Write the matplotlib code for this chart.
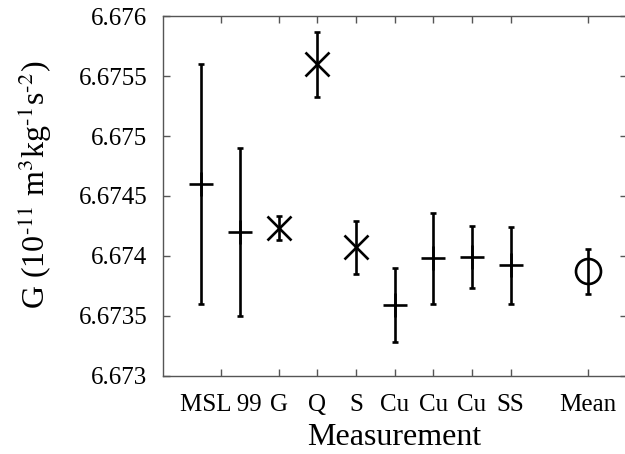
import numpy as np
import matplotlib.pyplot as plt

# measurements of G (in 10^-11 m^3 kg^-1 s^-2)
x_pos = [1, 2, 3, 4, 5, 6, 7, 8, 9, 11]
g_val = [6.6746, 6.6742, 6.67423, 6.6756, 6.67407, 6.67359, 6.67398, 6.67399, 6.67392, 6.67387]
g_err = [0.0010, 0.0007, 0.0001, 0.00027, 0.00022, 0.00031, 0.00038, 0.00026, 0.00032, 0.00019]
markers = ['+', '+', 'x', 'x', 'x', '+', '+', '+', '+', 'o']

tick_pos = [1.5, 3, 4, 5, 6, 7, 8, 9, 11]
tick_lab = ['MSL 99', 'G', 'Q', 'S', 'Cu', 'Cu', 'Cu', 'SS', 'Mean']
y_ticks = [6.673, 6.6735, 6.674, 6.6745, 6.675, 6.6755, 6.676]

plt.rcParams['font.family'] = ['Liberation Serif', 'DejaVu Serif']
plt.rcParams['mathtext.fontset'] = 'stix'

fig = plt.figure(figsize=(6.25, 4.54), dpi=100)
ax = fig.add_axes([0.2603, 0.1729, 0.7425, 0.7908])

for xi, yi, ei, m in zip(x_pos, g_val, g_err, markers):
    ms = 18 if m == 'o' else 17
    ax.errorbar(xi, yi, yerr=ei, fmt=m, color='black', ms=ms, mew=1.9,
                mfc='none', elinewidth=1.9, capsize=2, capthick=1.9)

ax.set_xlim(0, 12)
ax.set_ylim(6.673, 6.676)
ax.set_xticks(tick_pos)
ax.set_xticklabels(tick_lab)
ax.set_yticks(y_ticks)
ax.set_yticklabels(['%g' % v for v in y_ticks])
ax.tick_params(direction='in', length=5, width=1, color='#555555',
               labelsize=18, top=True, right=True)
ax.tick_params(axis='x', pad=13)
ax.tick_params(axis='y', pad=11)
for s in ax.spines.values():
    s.set_color('#555555')
    s.set_linewidth(1)

ax.set_xlabel('Measurement', fontsize=23, labelpad=5)
ax.set_ylabel(r'G (10$^{\text{-11}}$ m$^{3}$kg$^{\text{-1}}$s$^{\text{-2}}$)', fontsize=23)
ax.yaxis.set_label_coords(-0.235, 0.53)

fig.savefig('out.png', dpi=100)
